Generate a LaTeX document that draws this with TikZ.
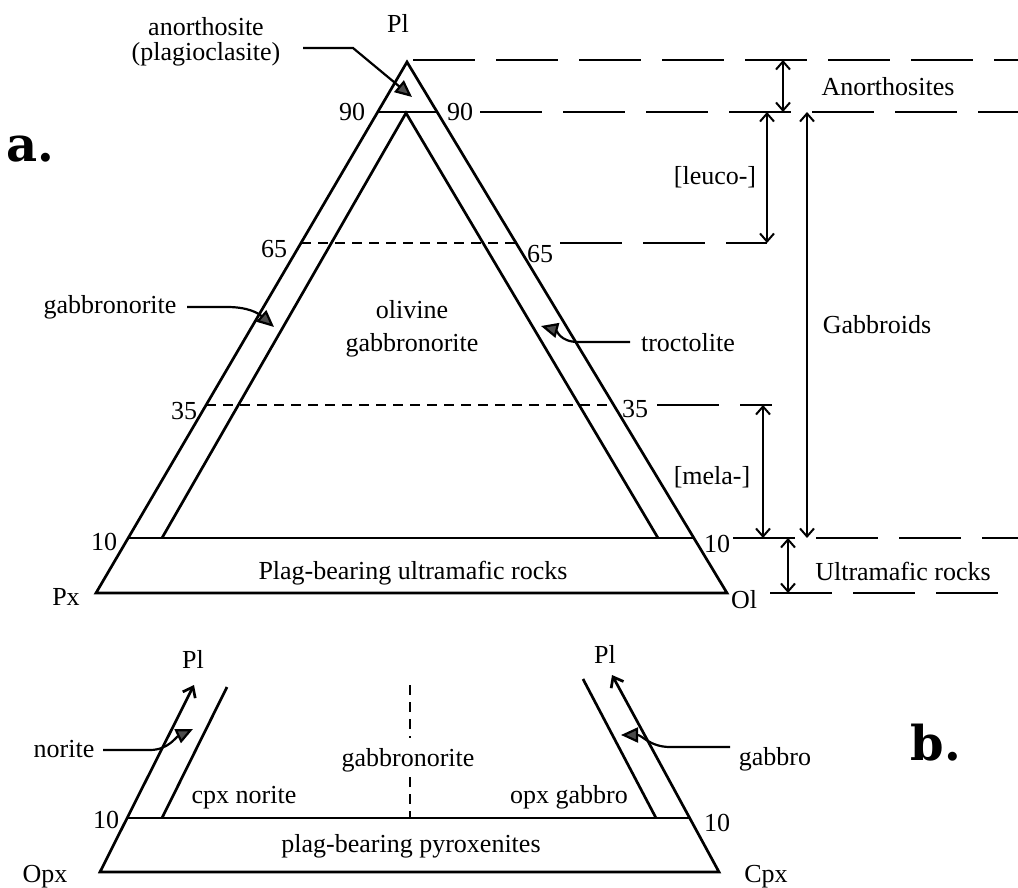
\documentclass[tikz,border=0pt]{standalone}
\usepackage{fontspec}
\setmainfont{Liberation Serif}
\newfontfamily\labfont{DejaVu Serif}
\usetikzlibrary{arrows.meta}
\begin{document}
\begin{tikzpicture}[x=1pt,y=-1pt,
  lbl/.style={font=\fontsize{26}{28}\selectfont, inner sep=0pt, anchor=base},
  big/.style={font=\labfont\bfseries\fontsize{48}{48}\selectfont, inner sep=0pt, anchor=base},
  tri/.style={line width=2.7pt, line join=miter},
  shortdash/.style={line width=1.9pt, dash pattern=on 10pt off 7pt},
  longdash/.style={line width=2.2pt, dash pattern=on 62pt off 21pt},
  barb/.style={line width=2pt, {Straight Barb[length=8pt,width=14pt]}-{Straight Barb[length=8pt,width=14pt]}},
  tipbarb/.style={tri, {Straight Barb[length=9pt,width=14pt]}-{Straight Barb[length=9pt,width=14pt]}},
  leader/.style={line width=2.2pt, -{Triangle[length=17pt,width=15pt,fill=black!70]}}]
\useasboundingbox (0,0) rectangle (1018,888);

% ---------- part a: geometry ----------
\coordinate (A) at (407,62);
\coordinate (Px) at (96,593);
\coordinate (Ol) at (727,593);
\coordinate (L90) at (378,112);
\coordinate (R90) at (437,112);
\coordinate (IA) at (406,113);
\coordinate (IL) at (162,538);
\coordinate (IR) at (658,538);
\coordinate (L10) at (128,538);
\coordinate (R10) at (694,538);
\coordinate (L65) at (301,243);
\coordinate (R65) at (516,243);
\coordinate (L35) at (206,405);
\coordinate (R35) at (614,405);

\draw[tri] (A) -- (Px) -- (Ol) -- cycle;
\draw[tri] (L90) -- (R90);
\draw[tri] (IL) -- (IA) -- (IR);
\draw[tri] (L10) -- (R10);
\draw[shortdash] (L65) -- (R65);
\draw[shortdash] (L35) -- (R35);

% ---------- part a: labels ----------
\node[lbl] (plA) at (398,33) {Pl};
\node[lbl] (anorth1) at (206,36) {anorthosite};
\node[lbl] (anorth2) at (206,61) {(plagioclasite)};
\node[big] (labA) at (30,162) {a.};
\node[lbl] (n90l) at (352,121) {90};
\node[lbl] (n90r) at (460,121) {90};
\node[lbl] (n65l) at (274,257) {65};
\node[lbl] (n65r) at (540,262) {65};
\node[lbl] (n35l) at (184,419) {35};
\node[lbl] (n35r) at (635,417) {35};
\node[lbl] (n10l) at (104,550) {10};
\node[lbl] (n10r) at (717,552) {10};
\node[lbl] (px) at (66,605) {Px};
\node[lbl] (ol) at (744,608) {Ol};
\node[lbl] (olv1) at (412,318) {olivine};
\node[lbl] (olv2) at (412,351) {gabbronorite};
\node[lbl] (gbn) at (110,313) {gabbronorite};
\node[lbl] (troc) at (688,351) {troctolite};
\node[lbl] (pbur) at (413,579) {Plag-bearing ultramafic rocks};

\node[lbl] (anos) at (888,96) {Anorthosites};
\node[lbl] (leuco) at (715,185) {[leuco-]};
\node[lbl] (gabs) at (877,333) {Gabbroids};
\node[lbl] (mela) at (712,484) {[mela-]};
\node[lbl] (ultra) at (903,580) {Ultramafic rocks};

% ---------- part a: leaders ----------
\coordinate (an1) at (303,48);
\coordinate (an2) at (353,48);
\coordinate (anTip) at (412,97);
\draw[leader] (an1) -- (an2) -- (anTip);

\coordinate (gb1) at (187,307);
\coordinate (gb2) at (227,307);
\coordinate (gbTip) at (274,327);
\draw[leader] (gb1) -- (gb2) .. controls (248,307) and (258,313) .. (gbTip);

\coordinate (tr1) at (630,342);
\coordinate (tr2) at (578,342);
\coordinate (trTip) at (541,326);
\draw[leader] (tr1) -- (tr2) .. controls (560,342) and (556,330) .. (trTip);

% ---------- part a: right-hand scale ----------
\coordinate (d60a) at (413,60);   \coordinate (d60b) at (1018,60);
\coordinate (d112a) at (480,112); \coordinate (d112b) at (1018,112);
\coordinate (d243a) at (560,243); \coordinate (d243b) at (767,243);
\coordinate (d405a) at (657,405); \coordinate (d405b) at (772,405);
\coordinate (d538a) at (733,538); \coordinate (d538b) at (1018,538);
\coordinate (d593a) at (770,593); \coordinate (d593b) at (1018,593);
\draw[longdash] (d60a) -- (d60b);
\draw[longdash] (d112a) -- (d112b);
\draw[longdash] (d243a) -- (d243b);
\draw[longdash] (d405a) -- (d405b);
\draw[longdash] (d538a) -- (d538b);
\draw[longdash] (d593a) -- (d593b);

\coordinate (anT) at (783,60);  \coordinate (anB) at (783,112);
\coordinate (leT) at (767,112); \coordinate (leB) at (767,243);
\coordinate (gaT) at (807,112); \coordinate (gaB) at (807,538);
\coordinate (meT) at (763,405); \coordinate (meB) at (763,538);
\coordinate (ulT) at (788,538); \coordinate (ulB) at (788,593);
\draw[barb] (anT) -- (anB);
\draw[barb] (leT) -- (leB);
\draw[barb] (gaT) -- (gaB);
\draw[barb] (meT) -- (meB);
\draw[barb] (ulT) -- (ulB);

% ---------- part b ----------
\coordinate (Opx) at (100,872);
\coordinate (Cpx) at (719,872);
\coordinate (bL10) at (127,818);
\coordinate (bR10) at (690,818);
\coordinate (bIL) at (162,818);
\coordinate (bILt) at (227,687);
\coordinate (bIR) at (656,818);
\coordinate (bIRt) at (583,679);
\coordinate (bTipL) at (194,685);
\coordinate (bTipR) at (612,675);

\draw[tipbarb] (bTipL) -- (Opx) -- (Cpx) -- (bTipR);
\draw[tri] (bL10) -- (bR10);
\draw[tri] (bIL) -- (bILt);
\draw[tri] (bIR) -- (bIRt);

\coordinate (gv1) at (410,685);
\coordinate (gv2) at (410,738);
\coordinate (gv3) at (410,777);
\coordinate (gv4) at (410,818);
\draw[shortdash] (gv1) -- (gv2);
\draw[shortdash] (gv3) -- (gv4);

\node[lbl] (plBL) at (193,668) {Pl};
\node[lbl] (plBR) at (605,663) {Pl};
\node[lbl] (norite) at (64,757) {norite};
\node[lbl] (gbnB) at (408,766) {gabbronorite};
\node[lbl] (gabbro) at (775,765) {gabbro};
\node[big] (labB) at (936,760) {b.};
\node[lbl] (cpxn) at (244,803) {cpx norite};
\node[lbl] (opxg) at (569,803) {opx gabbro};
\node[lbl] (b10l) at (106,828) {10};
\node[lbl] (b10r) at (717,831) {10};
\node[lbl] (pbp) at (411,852) {plag-bearing pyroxenites};
\node[lbl] (opx) at (45,882) {Opx};
\node[lbl] (cpx) at (766,882) {Cpx};

\coordinate (no1) at (103,750);
\coordinate (no2) at (150,750);
\coordinate (noTip) at (193,729);
\draw[leader] (no1) -- (no2) .. controls (168,750) and (176,737) .. (noTip);

\coordinate (ga1) at (730,747);
\coordinate (ga2) at (670,747);
\coordinate (gaTip) at (621,735);
\draw[leader] (ga1) -- (ga2) .. controls (650,747) and (642,735) .. (gaTip);
\end{tikzpicture}
\end{document}
